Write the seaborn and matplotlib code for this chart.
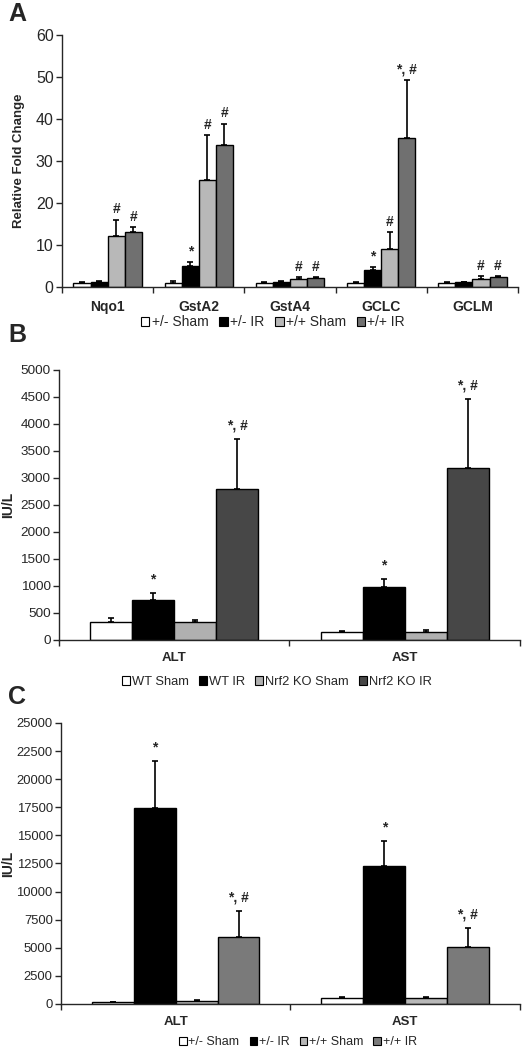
import numpy as np
import pandas as pd
import matplotlib
matplotlib.use("Agg")
import matplotlib.pyplot as plt
from matplotlib.patches import Patch
import seaborn as sns

# Panel A data
genes = ["Nqo1", "GstA2", "GstA4", "GCLC", "GCLM"]
groups_a = ["+/- Sham", "+/- IR", "+/+ Sham", "+/+ IR"]
a_mean = {
    "+/- Sham": [1.0, 1.0, 1.0, 1.0, 1.0],
    "+/- IR":   [1.3, 5.0, 1.2, 4.1, 1.2],
    "+/+ Sham": [12.2, 25.4, 2.0, 9.0, 2.0],
    "+/+ IR":   [13.0, 33.8, 2.2, 35.4, 2.4],
}
a_err = {
    "+/- Sham": [0.2, 0.4, 0.1, 0.2, 0.1],
    "+/- IR":   [0.2, 1.0, 0.2, 0.6, 0.1],
    "+/+ Sham": [3.8, 10.8, 0.4, 4.0, 0.6],
    "+/+ IR":   [1.2, 5.1, 0.2, 14.0, 0.2],
}
a_marks = {
    "+/- Sham": ["", "", "", "", ""],
    "+/- IR":   ["", "*", "", "*", ""],
    "+/+ Sham": ["#", "#", "#", "#", "#"],
    "+/+ IR":   ["#", "#", "#", "*, #", "#"],
}

# Panel B data
enzymes = ["ALT", "AST"]
groups_b = ["WT Sham", "WT IR", "Nrf2 KO Sham", "Nrf2 KO IR"]
b_mean = {
    "WT Sham": [340, 150],
    "WT IR": [740, 985],
    "Nrf2 KO Sham": [340, 150],
    "Nrf2 KO IR": [2790, 3190],
}
b_err = {
    "WT Sham": [70, 15],
    "WT IR": [130, 140],
    "Nrf2 KO Sham": [30, 30],
    "Nrf2 KO IR": [930, 1270],
}
b_marks = {
    "WT Sham": ["", ""],
    "WT IR": ["*", "*"],
    "Nrf2 KO Sham": ["", ""],
    "Nrf2 KO IR": ["*, #", "*, #"],
}

# Panel C data
groups_c = ["+/- Sham", "+/- IR", "+/+ Sham", "+/+ IR"]
c_mean = {
    "+/- Sham": [180, 530],
    "+/- IR": [17430, 12320],
    "+/+ Sham": [260, 530],
    "+/+ IR": [6000, 5080],
}
c_err = {
    "+/- Sham": [20, 90],
    "+/- IR": [4180, 2200],
    "+/+ Sham": [90, 90],
    "+/+ IR": [2250, 1690],
}
c_marks = {
    "+/- Sham": ["", ""],
    "+/- IR": ["*", "*"],
    "+/+ Sham": ["", ""],
    "+/+ IR": ["*, #", "*, #"],
}

sns.set_style("ticks")
plt.rcParams["font.family"] = ["Liberation Sans", "DejaVu Sans"]
plt.rcParams["axes.linewidth"] = 1.0


def draw_panel(ax, cats, groups, means, errs, marks, colors, ymax, ystep,
               ylabel, ylab_size, ylab_x, tick_size, cat_size, ann_off, width):
    rows = []
    for g in groups:
        for c, v in zip(cats, means[g]):
            rows.append({"cat": c, "group": g, "value": v})
    df = pd.DataFrame(rows)
    sns.barplot(data=df, x="cat", y="value", hue="group", order=cats,
                hue_order=groups, palette=colors, errorbar=None,
                width=width, gap=0, edgecolor="black", linewidth=1.0,
                saturation=1, legend=False, ax=ax)
    for cont, g in zip(ax.containers, groups):
        xs = [p.get_x() + p.get_width() / 2 for p in cont.patches]
        tops = [p.get_height() for p in cont.patches]
        ax.errorbar(xs, tops, yerr=[np.zeros(len(xs)), errs[g]], fmt="none",
                    ecolor="black", elinewidth=1.2, capsize=2.2, capthick=1.2,
                    zorder=3)
        for x, t, e, m in zip(xs, tops, errs[g], marks[g]):
            if m:
                ax.text(x, t + e + ann_off, m, ha="center", va="bottom",
                        fontsize=10, fontweight="bold")
    n = len(cats)
    ax.set_xlim(-0.5, n - 0.5)
    ax.set_ylim(0, ymax)
    ax.set_yticks(np.arange(0, ymax + 1, ystep))
    ax.tick_params(axis="y", labelsize=tick_size, direction="out", length=4,
                   width=1, pad=2)
    ax.set_xticks(range(n))
    ax.set_xticklabels(cats, fontsize=cat_size, fontweight="bold")
    ax.tick_params(axis="x", which="major", length=0, pad=9)
    ax.set_xticks(np.arange(-0.5, n, 1.0), minor=True)
    ax.tick_params(axis="x", which="minor", direction="out", length=4, width=1)
    ax.set_xlabel("")
    ax.set_ylabel(ylabel, fontsize=ylab_size, fontweight="bold")
    ax.yaxis.set_label_coords(ylab_x, 0.5)
    sns.despine(ax=ax)


fig = plt.figure(figsize=(5.31, 10.49), dpi=100)

col_a = ["#ffffff", "#000000", "#b8b8b8", "#707070"]
col_b = ["#ffffff", "#000000", "#b0b0b0", "#474747"]
col_c = ["#ffffff", "#000000", "#b8b8b8", "#7a7a7a"]

ax_a = fig.add_axes([0.1168, 0.7264, 0.8588, 0.2402])
draw_panel(ax_a, genes, groups_a, a_mean, a_err, a_marks, col_a, 60, 10,
           "Relative Fold Change", 9.5, -0.081, 11.5, 10, 0.8, 0.75)

ax_b = fig.add_axes([0.111, 0.3899, 0.868, 0.2574])
draw_panel(ax_b, enzymes, groups_b, b_mean, b_err, b_marks, col_b, 5000, 500,
           "IU/L", 10, -0.095, 9.7, 9.5, 120, 0.73)

ax_c = fig.add_axes([0.115, 0.0429, 0.864, 0.2679])
draw_panel(ax_c, enzymes, groups_c, c_mean, c_err, c_marks, col_c, 25000, 2500,
           "IU/L", 10, -0.1, 9.4, 9.5, 600, 0.73)


def add_legend(groups, colors, xc, yc, size):
    handles = [Patch(facecolor=c, edgecolor="black", linewidth=0.8, label=g)
               for g, c in zip(groups, colors)]
    fig.legend(handles=handles, loc="center", bbox_to_anchor=(xc, yc),
               ncol=len(groups), frameon=False, fontsize=size,
               handlelength=0.6, handleheight=0.6, handletextpad=0.15,
               columnspacing=0.8, borderpad=0)


add_legend(groups_a, col_a, 273 / 531, 1 - 322 / 1049, 10)
add_legend(groups_b, col_b, 277 / 531, 1 - 682 / 1049, 9.3)
add_legend(groups_c, col_c, 298 / 531, 1 - 1042 / 1049, 9)

# panel letters
for letter, y in [("A", 14), ("B", 335), ("C", 697)]:
    fig.text(8 / 531, 1 - y / 1049, letter, fontsize=18, fontweight="bold",
             ha="left", va="center")

fig.savefig("out.png", dpi=100)
